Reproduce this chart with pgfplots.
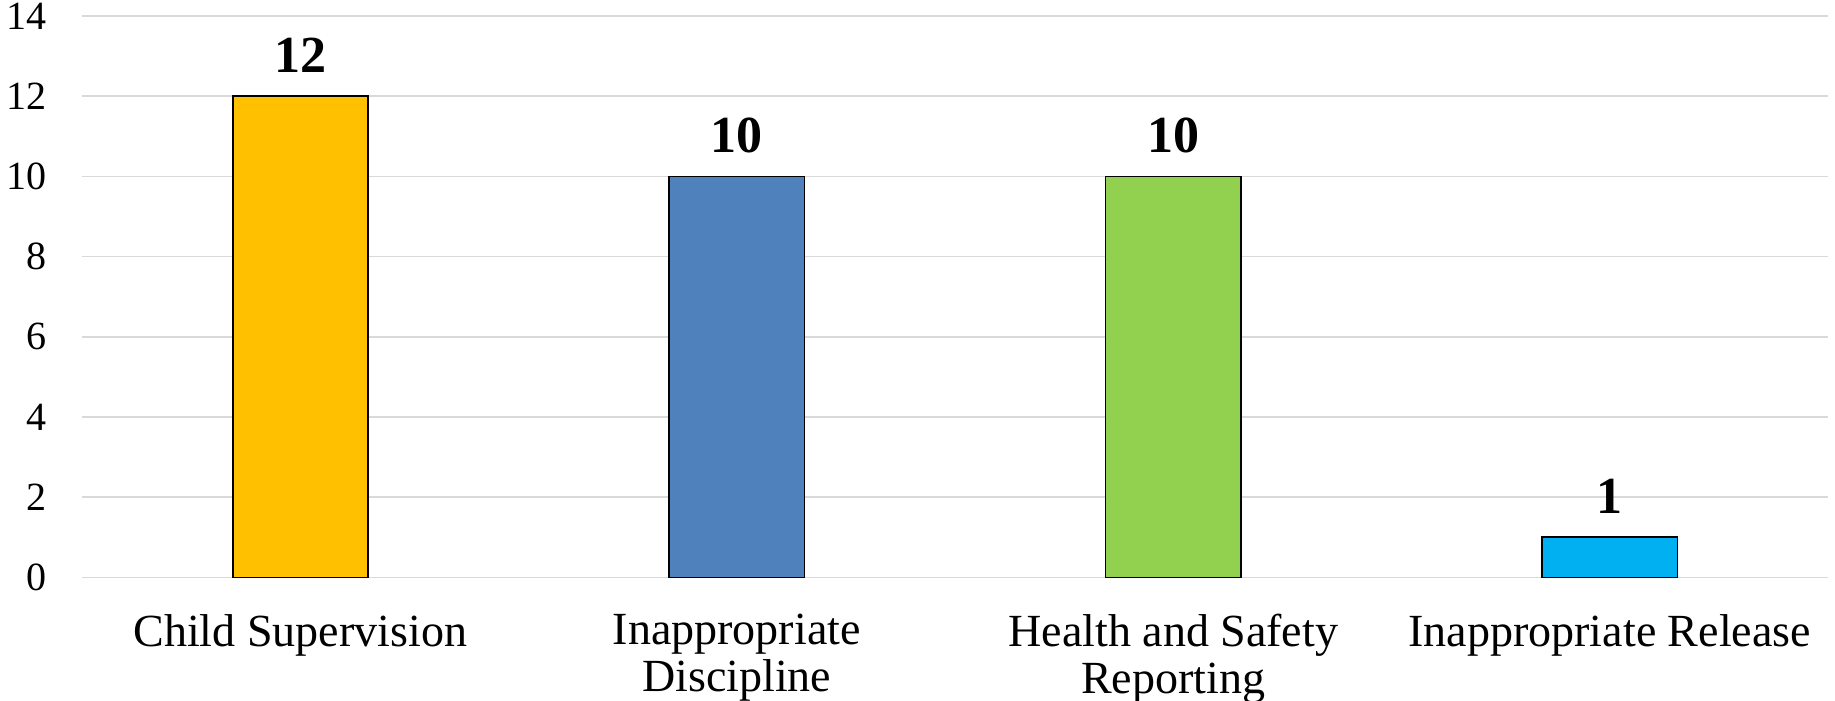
\documentclass[border=0pt]{standalone}
\usepackage{pgfplots}
\pgfplotsset{compat=1.18}
\usepackage{fontspec}
\setmainfont{Liberation Serif}

\definecolor{cYellow}{HTML}{FFC000}
\definecolor{cBlue}{HTML}{4F81BD}
\definecolor{cGreen}{HTML}{92D050}
\definecolor{cCyan}{HTML}{00B0F0}
\definecolor{gridgray}{HTML}{D9D9D9}

\begin{document}
\begin{tikzpicture}
\begin{axis}[
    scale only axis,
    width=872.5pt, height=280.5pt,
    ymin=0, ymax=14, ytick={0,2,...,14},
    xmin=-0.5, xmax=3.5,
    xtick={0,1,2,3},
    xticklabels={Child Supervision, Inappropriate\\Discipline, Health and Safety\\Reporting, Inappropriate Release},
    axis line style={draw=none},
    tick style={draw=none},
    ymajorgrids,
    grid style={gridgray, line width=0.8pt},
    ybar, bar width=67.5pt, bar shift=0pt,
    /pgf/number format/assume math mode=true,
    y tick label style={font=\fontsize{20}{24}\selectfont, inner sep=0pt, xshift=-17.5pt},
    x tick label style={font=\fontsize{23}{23.5}\selectfont, align=center, inner sep=0pt, yshift=-14pt},
    nodes near coords,
    nodes near coords style={font=\fontsize{26}{30}\selectfont\bfseries, anchor=south, inner sep=0pt, yshift=11.5pt},
    every axis plot/.append style={draw=black, line width=0.75pt},
]
\addplot[fill=cYellow] coordinates {(0,12)};
\addplot[fill=cBlue] coordinates {(1,10)};
\addplot[fill=cGreen] coordinates {(2,10)};
\addplot[fill=cCyan] coordinates {(3,1)};
\end{axis}
\pgfresetboundingbox
\useasboundingbox ([xshift=-41pt,yshift=-61.5pt]current axis.south west) rectangle ([xshift=3.5pt,yshift=8pt]current axis.north east);
\end{tikzpicture}
\end{document}
